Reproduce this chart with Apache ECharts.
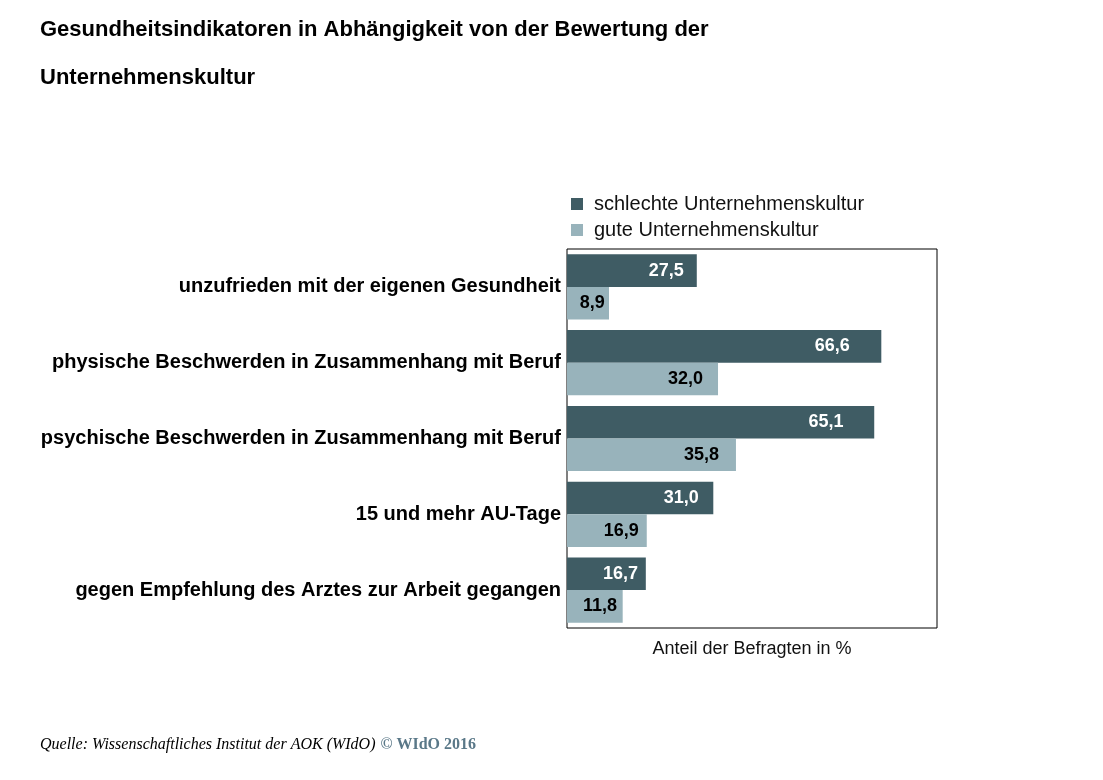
<!DOCTYPE html>
<html>
<head>
<meta charset="utf-8">
<script src="https://cdn.jsdelivr.net/npm/echarts@6/dist/echarts.min.js"></script>
<style>
html,body{margin:0;padding:0;background:#fff;}
#chart{width:1103px;height:780px;}
</style>
</head>
<body>
<div id="chart"></div>
<script>
const categories = [
  'unzufrieden mit der eigenen Gesundheit',
  'physische Beschwerden in Zusammenhang mit Beruf',
  'psychische Beschwerden in Zusammenhang mit Beruf',
  '15 und mehr AU-Tage',
  'gegen Empfehlung des Arztes zur Arbeit gegangen'
];
const seriesNames = ['schlechte Unternehmenskultur', 'gute Unternehmenskultur'];
const schlecht = [27.5, 66.6, 65.1, 31.0, 16.7];
const gut = [8.9, 32.0, 35.8, 16.9, 11.8];
const axisName = 'Anteil der Befragten in %';
const titleLines = ['Gesundheitsindikatoren in Abhängigkeit von der Bewertung der', 'Unternehmenskultur'];
const sourceText = 'Quelle: Wissenschaftliches Institut der AOK (WIdO)';
const sourceMark = '© WIdO 2016';

const fmt = p => p.value.toFixed(1).replace('.', ',');
const sans = '"Liberation Sans", Arial, sans-serif';
const serif = '"Liberation Serif", "Times New Roman", serif';

const chart = echarts.init(document.getElementById('chart'), null, {renderer: 'canvas'});
chart.setOption({
  animation: false,
  backgroundColor: '#fff',
  title: [
    {
      text: titleLines.join('\n'),
      left: 40, top: 6, padding: 0,
      textStyle: {fontFamily: sans, fontWeight: 'bold', fontSize: 22, color: '#000', lineHeight: 48}
    },
    {
      text: '{a|' + sourceText + '} {b|' + sourceMark + '}',
      left: 40, top: 736, padding: 0,
      textStyle: {
        rich: {
          a: {fontFamily: serif, fontStyle: 'italic', fontWeight: 'normal', fontSize: 16, color: '#000'},
          b: {fontFamily: serif, fontWeight: 'bold', fontSize: 16, color: '#5a7888'}
        }
      }
    }
  ],
  legend: {
    orient: 'vertical',
    left: 566, top: 189,
    itemWidth: 12, itemHeight: 12, itemGap: 6,
    icon: 'rect',
    textStyle: {fontFamily: sans, fontSize: 20, color: '#111', padding: [0, 0, 0, 6]},
    data: seriesNames
  },
  grid: {
    left: 567, right: 166, top: 249, bottom: 152,
    show: true, borderColor: '#000', borderWidth: 1, backgroundColor: 'transparent'
  },
  xAxis: {
    type: 'value', min: 0, max: 78.4,
    name: axisName, nameLocation: 'middle', nameGap: 12,
    nameTextStyle: {fontFamily: sans, fontSize: 18, color: '#111'},
    axisLine: {show: false}, axisTick: {show: false}, axisLabel: {show: false}, splitLine: {show: false}
  },
  yAxis: {
    type: 'category', data: categories, inverse: true,
    axisLine: {show: false}, axisTick: {show: false}, splitLine: {show: false},
    axisLabel: {fontFamily: sans, fontWeight: 'bold', fontSize: 20, color: '#000', margin: 6}
  },
  series: [
    {
      name: seriesNames[0], type: 'bar', data: schlecht,
      barGap: '0%', barCategoryGap: '14%',
      itemStyle: {color: '#3f5c64'},
      label: {show: true, position: ['90%', '50%'], align: 'right', verticalAlign: 'middle',
        formatter: fmt, fontFamily: sans, fontWeight: 'bold', fontSize: 18, color: '#fff'}
    },
    {
      name: seriesNames[1], type: 'bar', data: gut,
      barGap: '0%', barCategoryGap: '14%',
      itemStyle: {color: '#98b3bb'},
      label: {show: true, position: ['90%', '50%'], align: 'right', verticalAlign: 'middle',
        formatter: fmt, fontFamily: sans, fontWeight: 'bold', fontSize: 18, color: '#000'}
    }
  ]
});
</script>
</body>
</html>
